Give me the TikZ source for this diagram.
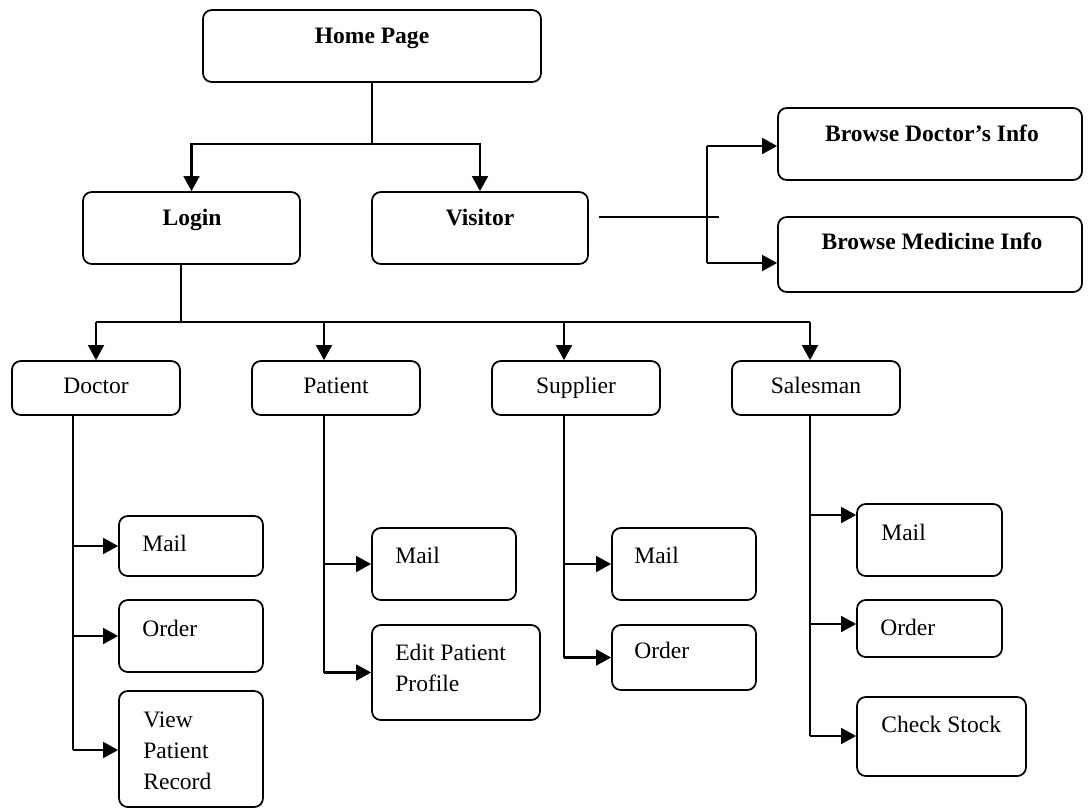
\documentclass[tikz,border=0pt]{standalone}
\usepackage{fontspec}
\setmainfont{Liberation Serif}
\usetikzlibrary{arrows.meta}

\tikzset{
    oneline/.style={text height=0.68em, text depth=0.02em},
    box/.style 2 args={draw, rounded corners=5pt, line width=1pt, oneline,
        minimum width=#1*0.02cm, minimum height=#2*0.02cm, inner sep=0pt,
        font=\fontsize{13.4}{17.6}\selectfont},
    txt/.style={inner sep=0pt, align=left, anchor=west,
        font=\fontsize{13.4}{17.6}\selectfont},
    head/.style={inner sep=0pt, oneline, anchor=center,
        font=\fontsize{13.4}{17.6}\selectfont\bfseries},
    wire/.style={line width=0.8pt},
    elbow/.style={line width=1.2pt},
    arr/.style={elbow, -{Triangle[length=8.5pt, width=9pt]}}
}

\begin{document}
\begin{tikzpicture}[x=0.02cm, y=-0.02cm]
    \useasboundingbox (0, 0) rectangle (1088, 809);

    % top level
    \node[box={338}{72}] (home) at (372, 46) {};
    \node[head] (home-t) at (372, 38) {Home Page};
    \node[box={217}{72}] (login) at (191.5, 228) {};
    \node[head] (login-t) at (192, 220) {Login};
    \node[box={216}{72}] (visitor) at (480, 228) {};
    \node[head] (visitor-t) at (480, 220) {Visitor};
    \node[box={304}{72}] (bdoc) at (930, 144) {};
    \node[head] (bdoc-t) at (932, 136) {Browse Doctor’s Info};
    \node[box={304}{75}] (bmed) at (930, 254.5) {};
    \node[head] (bmed-t) at (932, 244) {Browse Medicine Info};

    % users
    \node[box={168}{54}] (doctor) at (96, 388) {Doctor};
    \node[box={168}{54}] (patient) at (336, 388) {Patient};
    \node[box={168}{54}] (supplier) at (576, 388) {Supplier};
    \node[box={168}{54}] (salesman) at (816, 388) {Salesman};

    % doctor
    \node[box={144}{60}] (dmail) at (191, 546) {};
    \node[txt] (dmail-t) at (142, 543) {Mail};
    \node[box={144}{72}] (dorder) at (191, 636) {};
    \node[txt] (dorder-t) at (142, 628) {Order};
    \node[box={144}{116}] (dview) at (191, 749) {};
    \node[txt] (dview-t) at (143, 751) {View\\Patient\\Record};

    % patient
    \node[box={144}{72}] (pmail) at (444, 564) {};
    \node[txt] (pmail-t) at (395, 555) {Mail};
    \node[box={168}{95}] (pedit) at (456, 672.5) {};
    \node[txt] (pedit-t) at (395, 667.5) {Edit Patient\\Profile};

    % supplier
    \node[box={144}{72}] (smail) at (684, 564) {};
    \node[txt] (smail-t) at (634, 555) {Mail};
    \node[box={144}{65}] (sorder) at (684, 657.5) {};
    \node[txt] (sorder-t) at (634, 650) {Order};

    % salesman
    \node[box={145}{72}] (amail) at (929.5, 540) {};
    \node[txt] (amail-t) at (881, 532) {Mail};
    \node[box={145}{57}] (aorder) at (929.5, 628.5) {};
    \node[txt] (aorder-t) at (880, 627) {Order};
    \node[box={169}{79}] (acheck) at (941.5, 736.5) {};
    \node[txt] (acheck-t) at (881, 724) {Check Stock};

    % home -> login / visitor
    \coordinate (hj) at (372, 144);
    \draw[wire] (home.south) -- (hj);
    \draw[arr] (hj) -| (login.north);
    \draw[arr] (hj) -| (visitor.north);

    % visitor -> browse
    \coordinate (vout) at (599, 217);
    \coordinate (vend) at (719, 217);
    \coordinate (vtop) at (707, 146);
    \coordinate (vbot) at (707, 263);
    \draw[wire] (vout) -- (vend);
    \draw[elbow] (vtop) -- (vbot);
    \draw[arr] (vtop) -- (vtop -| bdoc.west);
    \draw[arr] (vbot) -- (vbot -| bmed.west);

    % login -> users
    \coordinate (lj) at (181, 322);
    \coordinate (dcol) at (73, 750);
    \coordinate (pcol) at (324, 322);
    \coordinate (scol) at (564, 322);
    \coordinate (acol) at (810, 322);
    \draw[wire] (lj |- login.south) -- (lj);
    \draw[elbow] (doctor.north |- lj) -- (acol);
    \draw[arr] (doctor.north |- lj) -- (doctor.north);
    \draw[arr] (pcol) -- (pcol |- patient.north);
    \draw[arr] (scol) -- (scol |- supplier.north);
    \draw[arr] (acol) -- (acol |- salesman.north);

    % doctor branch
    \draw[wire] (dcol |- doctor.south) -- (dcol |- dmail);
    \draw[elbow] (dcol |- dmail) -- (dcol);
    \draw[arr] (dcol |- dmail) -- (dmail.west);
    \draw[arr] (dcol |- dorder) -- (dorder.west);
    \draw[arr] (dcol) -- (dcol -| dview.west);

    % patient branch
    \draw[wire] (pcol |- patient.south) -- (pcol |- pmail);
    \draw[elbow] (pcol |- pmail) -- (pcol |- pedit);
    \draw[arr] (pcol |- pmail) -- (pmail.west);
    \draw[arr] (pcol |- pedit) -- (pedit.west);

    % supplier branch
    \draw[wire] (scol |- supplier.south) -- (scol |- smail);
    \draw[elbow] (scol |- smail) -- (scol |- sorder);
    \draw[arr] (scol |- smail) -- (smail.west);
    \draw[arr] (scol |- sorder) -- (sorder.west);

    % salesman branch
    \coordinate (a1) at (810, 515);
    \coordinate (a2) at (810, 624);
    \coordinate (a3) at (810, 736);
    \draw[wire] (acol |- salesman.south) -- (a1);
    \draw[elbow] (a1) -- (a2);
    \draw[wire] (a2) -- (a3);
    \draw[arr] (a1) -- (a1 -| amail.west);
    \draw[arr] (a2) -- (a2 -| aorder.west);
    \draw[arr] (a3) -- (a3 -| acheck.west);
\end{tikzpicture}
\end{document}
